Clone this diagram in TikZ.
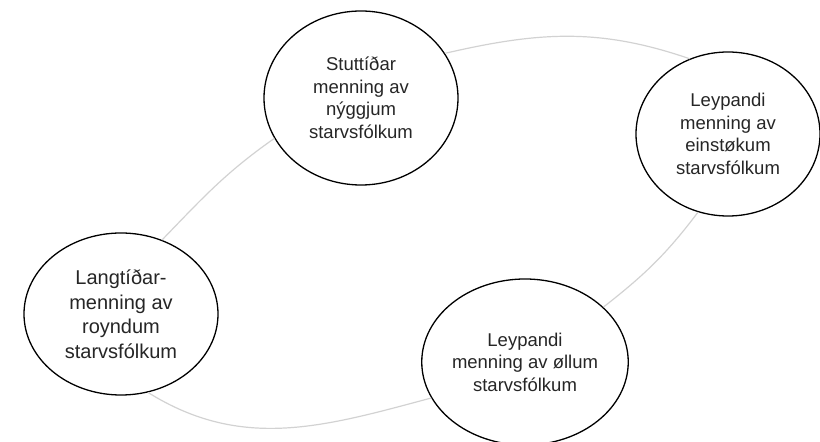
\documentclass[tikz,border=0pt]{standalone}
\usepackage{fontspec}
\setmainfont{Liberation Sans}
\usetikzlibrary{shapes.geometric}
\definecolor{ringgray}{HTML}{D2D2D2}
\definecolor{txt}{HTML}{262626}
\begin{document}
\begin{tikzpicture}[x=1pt,y=1pt,
  bubble/.style={ellipse, draw=black, line width=1.3pt, fill=white, inner sep=0pt,
    align=center, text=txt, font=\fontsize{18.5}{22.5}\selectfont},
  bigtext/.style={font=\fontsize{20}{24.5}\selectfont},
  ring/.style={draw=ringgray, line width=1.2pt}]
\useasboundingbox (0,0) rectangle (820,442);
\node[bubble, minimum width=194, minimum height=174] (top) at (361,344)
  {Stuttíðar\\menning av\\nýggjum\\starvsfólkum};
\node[bubble, minimum width=184, minimum height=164] (right) at (728,308)
  {Leypandi\\menning av\\einstøkum\\starvsfólkum};
\node[bubble, bigtext, minimum width=194, minimum height=162] (left) at (121,128)
  {Langtíðar-\\menning av\\royndum\\starvsfólkum};
\node[bubble, minimum width=196, minimum height=166] (bottom) at (525,80)
  {Leypandi\\menning av øllum\\starvsfólkum};
\draw[ring] (top.28) to[out=13,in=161] (right.117);
\draw[ring] (right.249) to[out=233,in=38] (bottom.35);
\draw[ring] (bottom.201) to[out=195,in=-32] (left.289);
\draw[ring] (left.61) to[out=46,in=215] (top.205);
\end{tikzpicture}
\end{document}
